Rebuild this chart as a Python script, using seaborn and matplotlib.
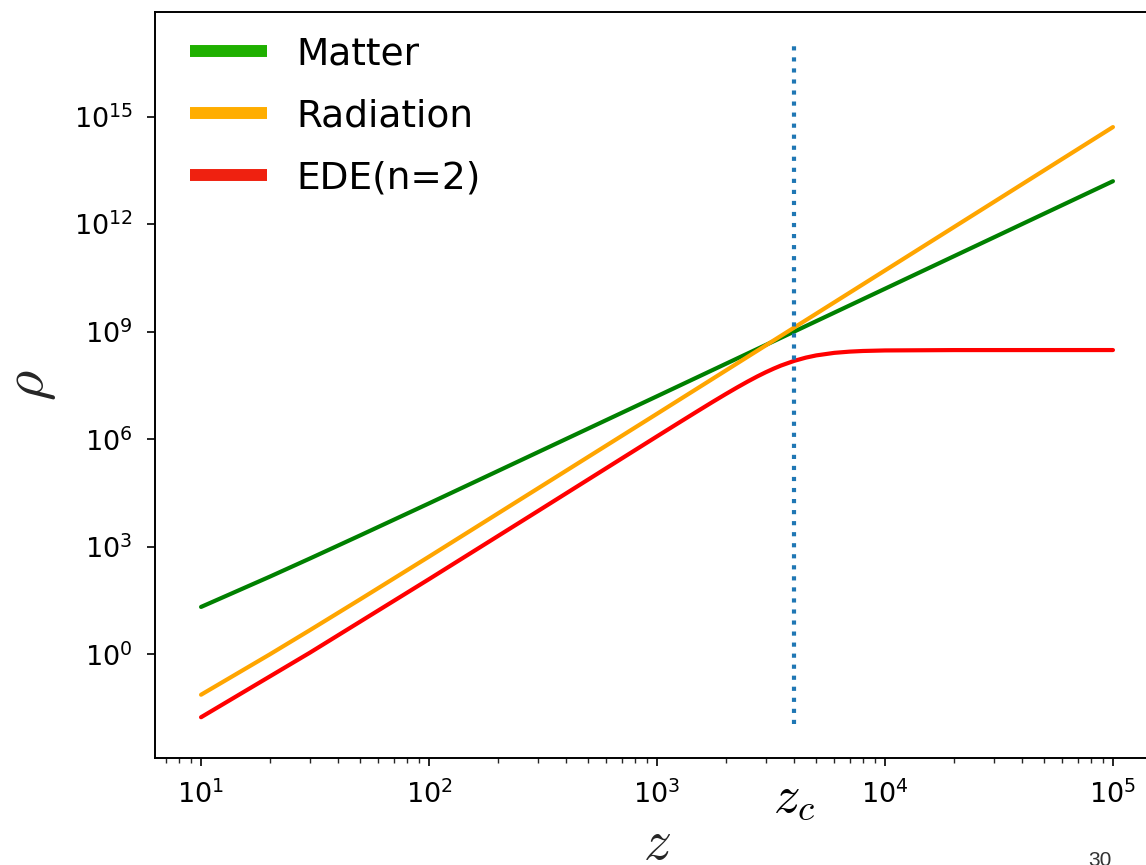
import numpy as np
import pandas as pd
import matplotlib
matplotlib.use("Agg")
import matplotlib.pyplot as plt
from matplotlib.lines import Line2D
from matplotlib.ticker import NullLocator
import seaborn as sns

# ---- data (log10 of rho) ----
z_matter = [10, 20, 30, 50, 100, 1000, 10000, 100000]
logrho_matter = [1.324, 2.167, 2.674, 3.323, 4.213, 7.201, 10.200, 13.200]

z_rad = [10, 20, 30, 50, 100, 1000, 10000, 100000]
logrho_rad = [-1.125, -0.001, 0.675, 1.540, 2.727, 6.712, 10.710, 14.710]

z_ede = [10, 30, 100, 300, 700, 1000, 1250, 1500, 1750, 2000, 2250, 2500, 2750,
         3000, 3250, 3500, 4000, 4500, 5000, 6000, 7000, 8000, 10000, 20000, 100000]
logrho_ede = [-1.753, 0.047, 2.099, 3.996, 5.464, 6.082, 6.466, 6.778, 7.039, 7.260,
              7.449, 7.612, 7.752, 7.871, 7.972, 8.058, 8.189, 8.279, 8.341, 8.412,
              8.446, 8.464, 8.479, 8.489, 8.490]

z_c = 4000
vline_log_range = [-1.94, 16.97]

series_names = ["Matter", "Radiation", "EDE(n=2)"]
line_colors = ["green", "orange", "red"]
legend_colors = ["#1fb000", "#ffad00", "#ef2110"]

xtick_label_zc = r"$z_c$"

# ---- figure ----
sns.set_style("ticks")
plt.rcParams["font.family"] = ["DejaVu Sans"]
plt.rcParams["mathtext.fontset"] = "dejavusans"
plt.rcParams["text.color"] = "black"

fig = plt.figure(figsize=(11.46, 8.65), dpi=100)
ax = fig.add_axes([155 / 1146, (865 - 758) / 865, 1004 / 1146, 746 / 865])

frames = []
for name, zz, ll in [("Matter", z_matter, logrho_matter),
                     ("Radiation", z_rad, logrho_rad),
                     ("EDE(n=2)", z_ede, logrho_ede)]:
    frames.append(pd.DataFrame({"z": zz, "rho": 10.0 ** np.array(ll), "series": name}))
df = pd.concat(frames, ignore_index=True)

for name, col in zip(series_names, line_colors):
    sub = df[df["series"] == name]
    sns.lineplot(data=sub, x="z", y="rho", color=col, lw=3, ax=ax,
                 legend=False, estimator=None, sort=False)

ax.set_xscale("log")
ax.set_yscale("log")
ax.vlines(z_c, 10 ** vline_log_range[0], 10 ** vline_log_range[1],
          colors="#1f77b4", linestyles=":", lw=3)

ax.set_xlim(10 ** 0.798, 10 ** 5.202)
ax.set_ylim(10 ** -2.89, 10 ** 17.92)
ax.set_yticks([10.0 ** k for k in range(0, 16, 3)])
ax.yaxis.set_minor_locator(NullLocator())

for s in ax.spines.values():
    s.set_visible(True)
    s.set_linewidth(1.4)
    s.set_color("black")
ax.tick_params(axis="both", which="major", labelsize=19.5, length=6, width=1.2,
               direction="out", colors="black", pad=10)
ax.tick_params(axis="x", which="minor", length=3.5, width=1.0, direction="out")

ax.set_xlabel(r"$z$", fontsize=40, math_fontfamily="cm")
ax.xaxis.set_label_coords(0.5, -0.079)
ax.set_ylabel(r"$\rho$", fontsize=42, math_fontfamily="cm")
ax.yaxis.set_label_coords(-0.097, 0.5)

ax.text(z_c, -0.018, xtick_label_zc, transform=ax.get_xaxis_transform(),
        ha="center", va="top", fontsize=38, math_fontfamily="cm")

handles = [Line2D([], [], color=c, lw=8.6, solid_capstyle="butt") for c in legend_colors]
ax.legend(handles, series_names, loc="upper left", bbox_to_anchor=(0.0349, 0.9673),
          frameon=False, borderpad=0, borderaxespad=0, handlelength=2.05,
          handletextpad=0.78, labelspacing=0.69, labelcolor="black",
          prop={"family": "DejaVu Sans", "size": 27})

fig.text(1100 / 1146, 1 - 851 / 865, "30", ha="center", va="top", fontsize=15,
         color="#333333", family="Liberation Sans")

fig.savefig("out.png", dpi=100)
